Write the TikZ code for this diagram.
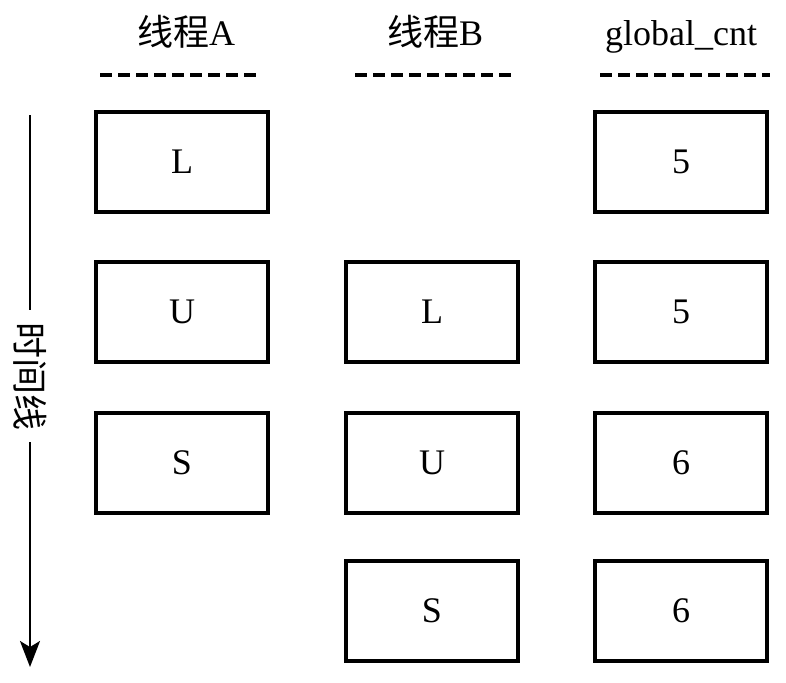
\documentclass[tikz,border=0pt]{standalone}
\usepackage{fontspec}
\setmainfont{Liberation Serif}
\newfontfamily\cjk{Noto Sans CJK SC}
\usetikzlibrary{arrows.meta}

\begin{document}
\begin{tikzpicture}[x=0.5pt, y=-0.5pt,
    every node/.style={font=\fontsize{18}{21}\selectfont},
    cell/.style={rectangle, draw, line width=1.6pt, minimum width=86pt, minimum height=50pt, inner sep=0pt},
    head/.style={anchor=base},
    sep/.style={line width=1.6pt, dash pattern=on 6pt off 3pt}]
    \useasboundingbox (0,0) rectangle (786,682);

    % Headers
    \node[head] (ha) at (186,45) {{\cjk 线程}A};
    \node[head] (hb) at (435,45) {{\cjk 线程}B};
    \node[head] (hc) at (681,45) {global\_cnt};
    \draw[sep] (100,75) -- (260,75);
    \draw[sep] (355,75) -- (515,75);
    \draw[sep] (600,75) -- (770,75);

    % Thread A
    \node[cell] (a1) at (182,162) {L};
    \node[cell] (a2) at (182,312) {U};
    \node[cell] (a3) at (182,463) {S};

    % Thread B
    \node[cell] (b2) at (432,312) {L};
    \node[cell] (b3) at (432,463) {U};
    \node[cell] (b4) at (432,611) {S};

    % global_cnt
    \node[cell] (c1) at (681,162) {5};
    \node[cell] (c2) at (681,312) {5};
    \node[cell] (c3) at (681,463) {6};
    \node[cell] (c4) at (681,611) {6};

    % Time line
    \coordinate (tt) at (30,115);
    \coordinate (tb) at (30,667);
    \node[rotate=-90, inner sep=6pt] (tl) at (30,376) {\cjk 时间线};
    \draw[line width=1.1pt] (tt) -- (tl);
    \draw[line width=1.1pt, -{Stealth[length=13pt, width=10pt, inset=3pt]}] (tl) -- (tb);
\end{tikzpicture}
\end{document}
